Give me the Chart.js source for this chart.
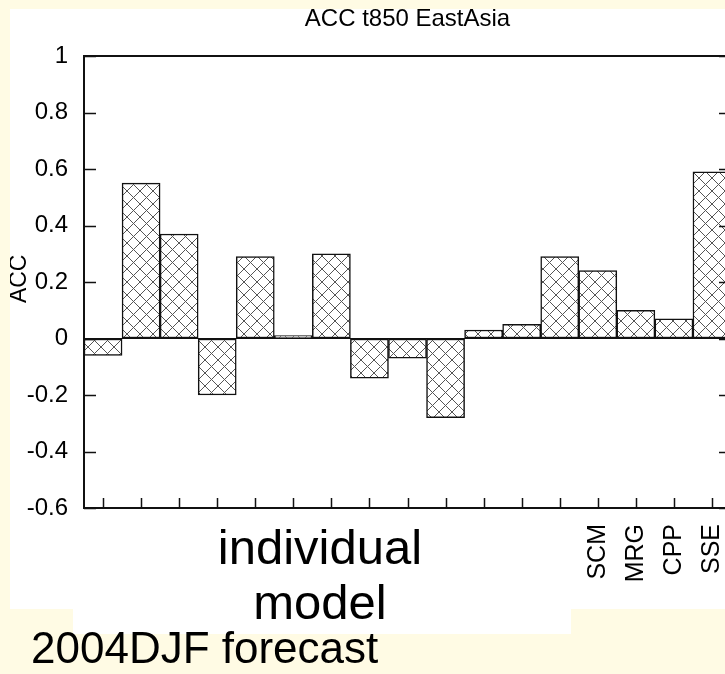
<!DOCTYPE html>
<html>
<head>
<meta charset="utf-8">
<title>ACC t850 EastAsia</title>
<script src="https://cdn.jsdelivr.net/npm/chart.js@4"></script>
<style>
    html, body { margin: 0; padding: 0; overflow: hidden; width: 725px; height: 674px; background: #fffbe4; font-family: "Liberation Sans", Arial, sans-serif; }
    #chart_box { position: absolute; left: 10px; top: 9px; background: #ffffff; }
    #model_box { position: absolute; left: 73px; top: 608px; width: 498px; height: 26px; background: #ffffff; }
    #label_individual { position: absolute; left: 120px; top: 520px; width: 400px; text-align: center; font-size: 49px; line-height: 55px; color: #000; }
    #label_forecast { position: absolute; left: 31px; top: 626px; font-size: 44px; line-height: 44px; color: #000; white-space: nowrap; }
</style>
</head>
<body>
<div id="model_box"></div>
<canvas id="chart_box" width="725" height="600"></canvas>
<div id="label_individual">individual<br>model</div>
<div id="label_forecast">2004DJF forecast</div>
<script>
'use strict';

/******************************************************************************************
DATA
******************************************************************************************/

// one bar per model, only the combined forecasts carry a name
var model_labels = ['', '', '', '', '', '', '', '', '', '', '', '', '', 'SCM', 'MRG', 'CPP', 'SSE'];
var acc_values = [-0.06, 0.55, 0.37, -0.20, 0.29, 0.01, 0.30, -0.14, -0.07, -0.28, 0.03, 0.05, 0.29, 0.24, 0.10, 0.07, 0.59];

// y axis range and tick step
var y_min = -0.6;
var y_max = 1;
var y_step = 0.2;


/******************************************************************************************
HATCH PATTERN
******************************************************************************************/

function make_hatch() {
    var size = 13;
    var tile = document.createElement('canvas');
    tile.width = size;
    tile.height = size;
    var c = tile.getContext('2d');
    c.fillStyle = '#ffffff';
    c.fillRect(0, 0, size, size);
    c.strokeStyle = '#555555';
    c.lineWidth = 1;
    c.beginPath();
    c.moveTo(-1, -1); c.lineTo(size + 1, size + 1);                                                  // "\" diagonal
    c.moveTo(size + 1, -1); c.lineTo(-1, size + 1);                                                  // "/" diagonal
    c.stroke();
    return c.createPattern(tile, 'repeat');
}


/******************************************************************************************
FRAME + INWARD TICKS
******************************************************************************************/

var frame_plugin = {
    id: 'frame_plugin',
    afterDraw: function(chart) {
        var ctx = chart.ctx;
        var area = chart.chartArea;
        var x = chart.scales.x;
        var y = chart.scales.y;
        ctx.save();
        ctx.strokeStyle = '#111111';

        // top and right border
        ctx.lineWidth = 2;
        ctx.beginPath();
        ctx.moveTo(area.left, area.top); ctx.lineTo(area.right, area.top);
        ctx.lineTo(area.right, area.bottom);
        ctx.stroke();

        // y ticks on both sides, pointing inward
        ctx.lineWidth = 1.5;
        ctx.beginPath();
        y.ticks.forEach(function(t) {
            var py = Math.round(y.getPixelForValue(t.value)) + 0.5;
            ctx.moveTo(area.left, py); ctx.lineTo(area.left + 12, py);
            ctx.moveTo(area.right - 12, py); ctx.lineTo(area.right, py);
        });

        // x ticks at bar centres, pointing up
        model_labels.forEach(function(label, i) {
            var px = Math.round(x.getPixelForValue(i)) + 0.5;
            ctx.moveTo(px, area.bottom); ctx.lineTo(px, area.bottom - 10);
        });
        ctx.stroke();
        ctx.restore();
    }
};


/******************************************************************************************
PLOT
******************************************************************************************/

function display_acc_plot() {
    var ctx = document.getElementById('chart_box').getContext('2d');
    var font_family = '"Liberation Sans", Arial, sans-serif';
    var acc_chart = new Chart(ctx, {
        type: 'bar',
        data: {
            labels: model_labels,
            datasets: [{
                label: 'ACC',
                data: acc_values,
                backgroundColor: make_hatch(),
                borderColor: '#111111',
                borderWidth: 1.5,
                borderSkipped: false,
                barPercentage: 1,
                categoryPercentage: 1
            }]
        },
        plugins: [frame_plugin],
        options: {
            responsive: false,
            animation: false,
            layout: {
                padding: { left: 0, right: 4, top: 0, bottom: 0 }
            },
            plugins: {
                legend: { display: false },
                tooltip: { enabled: false },
                title: {
                    display: true,
                    text: 'ACC t850 EastAsia',
                    fullSize: false,
                    color: '#000000',
                    font: { family: font_family, size: 24, weight: 'normal', lineHeight: 0.85 },
                    padding: { top: 0, bottom: 26.6 }
                }
            },
            scales: {
                x: {
                    grid: { display: false, drawTicks: false },
                    border: { display: true, color: '#111111', width: 2 },
                    ticks: {
                        autoSkip: false,
                        minRotation: 90,
                        maxRotation: 90,
                        padding: 16,
                        color: '#000000',
                        font: { family: font_family, size: 25 }
                    },
                    afterFit: function(scale) {
                        scale.height = 101;
                        // the plot runs off the right edge, no room kept for rotated labels
                        scale.paddingLeft = 0;
                        scale.paddingRight = 0;
                    }
                },
                y: {
                    min: y_min,
                    max: y_max,
                    grid: {
                        drawTicks: false,
                        drawOnChartArea: true,
                        lineWidth: 1,
                        // only the zero line is drawn across the plot
                        color: function(c) {
                            return (c.tick && Math.abs(c.tick.value) < 1e-9) ? '#111111' : 'rgba(0,0,0,0)';
                        }
                    },
                    border: { display: true, color: '#111111', width: 2 },
                    ticks: {
                        stepSize: y_step,
                        padding: 16,
                        color: '#000000',
                        font: { family: font_family, size: 24 },
                        callback: function(value) {
                            return String(+value.toFixed(1));
                        }
                    },
                    title: {
                        display: true,
                        text: ' ACC',                                                                    // leading space nudges it up a little
                        color: '#000000',
                        font: { family: font_family, size: 23, lineHeight: 0.8 },
                        padding: 0
                    },
                    afterFit: function(scale) { scale.width = 74; }
                }
            }
        }
    });
}

display_acc_plot();
</script>
</body>
</html>
